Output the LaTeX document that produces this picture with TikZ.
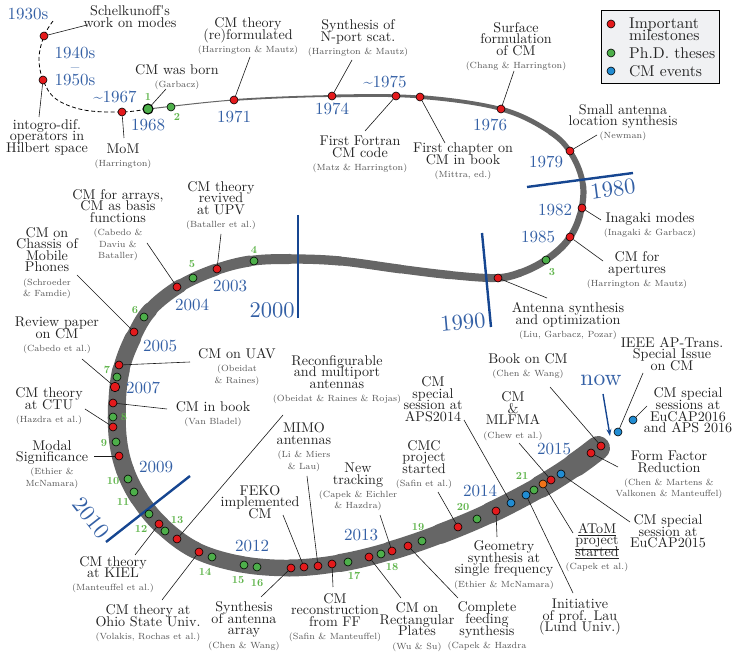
\documentclass[tikz,border=0pt]{standalone}
\usetikzlibrary{calc,arrows.meta}
\pgfdeclarelayer{bg}
\pgfdeclarelayer{mid}
\pgfsetlayers{bg,mid,main}

% fonts (Latin Modern, fixed optical sizes)
\font\mainfnt="[lmroman10-regular]:+tlig;" at 14.1pt
\font\smfnt="[lmroman7-regular]:+tlig;" at 8.95pt
\font\yrfnt="[lmroman10-regular]:+tlig;" at 17pt
\font\decfnt="[lmroman10-regular]:+tlig;" at 22.5pt
\font\nowfnt="[lmroman10-regular]:+tlig;" at 23.5pt
\font\numfnt="[lmroman10-bold]:+tlig;" at 10.8pt
\font\legfnt="[lmroman10-regular]:+tlig;" at 15.6pt

\definecolor{mred}{RGB}{228,26,28}
\definecolor{mgreen}{RGB}{77,175,74}
\definecolor{mblue}{RGB}{33,140,210}
\definecolor{morange}{RGB}{240,115,25}
\definecolor{yblue}{RGB}{52,96,165}
\definecolor{barblue}{RGB}{22,70,145}
\definecolor{ngreen}{RGB}{95,180,75}
\definecolor{tubegray}{RGB}{102,102,102}
\definecolor{labc}{RGB}{35,35,35}
\definecolor{smc}{RGB}{85,85,85}
\definecolor{legfill}{RGB}{240,241,243}

\newcommand\labfont{\mainfnt\baselineskip=11.6pt\lineskiplimit=-50pt\relax}
\newcommand\sm{\smfnt\color{smc}}

\begin{document}
\begin{tikzpicture}[x=1pt,y=-1pt,
  lab/.style={font=\labfont,align=center,inner sep=0pt,text=labc},
  yr/.style={font=\yrfnt,text=yblue,inner sep=0pt},
  dec/.style={font=\decfnt,text=yblue,inner sep=0pt},
  num/.style={font=\numfnt,text=ngreen,inner sep=0pt},
  legtext/.style={font={\legfnt\baselineskip=12pt\lineskiplimit=-50pt},align=left,inner sep=0pt,text=labc,anchor=west},
  dot/.style={circle,draw=black,line width=0.6pt,minimum size=8pt,inner sep=0pt},
  rd/.style={dot,fill=mred},
  gd/.style={dot,fill=mgreen},
  bd/.style={dot,fill=mblue},
  od/.style={dot,fill=morange},
  conn/.style={draw=black!90,line width=0.6pt},
  tube/.style={draw=tubegray,line cap=round},
  bar/.style={draw=barblue,line width=2.4pt},
  early/.style={draw=black,line width=0.8pt,dash pattern=on 4pt off 2.5pt},
]
\useasboundingbox (0,0) rectangle (732,652);

% ---------- milestone dots ----------
\node[rd] (r1) at (44,36) {};
\node[rd] (r2) at (43,80) {};
\node[rd] (r3) at (122,112) {};
\node[rd] (r4) at (234,100) {};
\node[rd] (r5) at (332,96) {};
\node[rd] (r6) at (396,96) {};
\node[rd] (r7) at (420,97) {};
\node[rd] (r8) at (501,109) {};
\node[rd] (r9) at (570,151) {};
\node[rd] (r10) at (582,208) {};
\node[rd] (r11) at (570,237) {};
\node[rd] (r12) at (498,278) {};
\node[rd] (r13) at (217,269) {};
\node[rd] (r14) at (177,287) {};
\node[rd] (r15) at (134,332) {};
\node[rd] (r16) at (119,365) {};
\node[rd,minimum size=9.5pt] (r17) at (115,387) {};
\node[rd] (r18) at (113,403) {};
\node[rd] (r19) at (113,427) {};
\node[rd] (r20) at (119,456) {};
\node[rd] (r21) at (159,524) {};
\node[rd] (r22) at (177,539) {};
\node[rd] (r23) at (199,552) {};
\node[rd] (r24) at (291,568) {};
\node[rd] (r25) at (304,567) {};
\node[rd] (r26) at (318,566) {};
\node[rd] (r27) at (332,564) {};
\node[rd] (r28) at (369,557) {};
\node[rd] (r29) at (392,551) {};
\node[rd] (r30) at (408,546) {};
\node[rd] (r31) at (458,527) {};
\node[rd] (r32) at (496,511) {};
\node[rd] (r33) at (551,480) {};
\node[rd] (r34) at (591,453) {};
\node[rd] (r35) at (601,446) {};

% ---------- thesis dots ----------
\node[gd,minimum size=10pt,line width=1.1pt] (g1) at (148,109) {};
\node[gd] (g2) at (171,107) {};
\node[gd] (g3) at (546,260) {};
\node[gd] (g4) at (254,261) {};
\node[gd] (g5) at (193,278) {};
\node[gd] (g6) at (144,317) {};
\node[gd] (g7) at (117,377) {};
\node[gd] (g8) at (113,417) {};
\node[gd] (g9) at (116,442) {};
\node[gd] (g10) at (128,479) {};
\node[gd] (g11) at (134,492) {};
\node[gd] (g12) at (149,514) {};
\node[gd] (g13) at (165,531) {};
\node[gd] (g14) at (212,557) {};
\node[gd] (g15) at (244,565) {};
\node[gd] (g16) at (257,567) {};
\node[gd] (g17) at (348,562) {};
\node[gd] (g18) at (381,554) {};
\node[gd] (g19) at (422,541) {};
\node[gd] (g20) at (477,519) {};
\node[gd] (g21) at (534,490) {};

% ---------- event dots ----------
\node[bd] (b1) at (511,503) {};
\node[bd] (b2) at (526,495) {};
\node[bd] (b3) at (561,474) {};
\node[bd] (b4) at (618,432) {};
\node[bd] (b5) at (633,420) {};
\node[od] (o1) at (543,484) {};

% ---------- thesis numbers ----------
\node[num] (n1) at (148,97) {1};
\node[num] (n2) at (177,117) {2};
\node[num] (n3) at (552,272) {3};
\node[num] (n4) at (254,250) {4};
\node[num] (n5) at (192,264) {5};
\node[num] (n6) at (135,310) {6};
\node[num] (n7) at (107,370) {7};
\node[num] (n8) at (124,417) {8};
\node[num] (n9) at (104,443) {9};
\node[num] (n10) at (113,481) {10};
\node[num] (n11) at (123,502) {11};
\node[num] (n12) at (141,529) {12};
\node[num] (n13) at (177,520) {13};
\node[num] (n14) at (205,572) {14};
\node[num] (n15) at (238,580) {15};
\node[num] (n16) at (257,583) {16};
\node[num] (n17) at (354,576) {17};
\node[num] (n18) at (392,567) {18};
\node[num] (n19) at (418,527) {19};
\node[num] (n20) at (463,507) {20};
\node[num] (n21) at (522,476) {21};

% ---------- years ----------
\node[yr] (y30) at (28,14) {1930s};
\node[yr,align=center,font={\yrfnt\baselineskip=13.5pt\lineskiplimit=-50pt}] (y40) at (75,66.5) {1940s\\\textendash\\1950s};
\node[yr] (y67) at (115,97) {\textasciitilde1967};
\node[yr] (y68) at (148,125) {1968};
\node[yr] (y71) at (234,117) {1971};
\node[yr] (y74) at (332,109) {1974};
\node[yr] (y75) at (385,82) {\textasciitilde1975};
\node[yr] (y76) at (490,125) {1976};
\node[yr] (y79) at (546,162) {1979};
\node[yr] (y82) at (555,210) {1982};
\node[yr] (y85) at (538,237) {1985};
\node[yr] (y03) at (230,286) {2003};
\node[yr] (y04) at (192,305) {2004};
\node[yr] (y05) at (160,346) {2005};
\node[yr] (y07) at (143,388) {2007};
\node[yr] (y09) at (156,467) {2009};
\node[yr] (y12) at (252,546) {2012};
\node[yr] (y13) at (361,535) {2013};
\node[yr] (y14) at (480,491) {2014};
\node[yr] (y15) at (554,449) {2015};
\node[dec,rotate=7.5] (d80) at (613,189) {1980};
\node[dec,rotate=5] (d90) at (463,322) {1990};
\node[dec] (d00) at (272,310) {2000};
\node[dec,rotate=-52] (d10) at (91,518) {2010};
\node[dec,font=\nowfnt] (dnow) at (601,380) {now};

% ---------- labels ----------
\node[lab] (L1) at (130,16.5) {Schelkunoff's\\work on modes};
\node[lab] (L2) at (47,137) {intogro-dif.\\operators in\\Hilbert space};
\node[lab] (L3) at (177,77) {CM was born\\[1.5pt]\sm (Garbacz)};
\node[lab] (L4) at (123,156.5) {MoM\\[1.5pt]\sm (Harrington)};
\node[lab] (L5) at (248,36) {CM theory\\(re)formulated\\[1.5pt]\sm (Harrington \& Mautz)};
\node[lab] (L6) at (358,38) {Synthesis of\\N-port scat.\\[1.5pt]\sm (Harrington \& Mautz)};
\node[lab] (L7) at (360,154.5) {First Fortran\\CM code\\[1.5pt]\sm (Matz \& Harrington)};
\node[lab] (L8) at (463,161) {First chapter on\\CM in book\\[1.5pt]\sm (Mittra, ed.)};
\node[lab] (L9) at (516,46.5) {Surface\\formulation\\of CM\\[1.5pt]\sm (Chang \& Harrington)};
\node[lab] (L10) at (623,122.5) {Small antenna\\location synthesis\\[1.5pt]\sm (Newman)};
\node[lab] (L11) at (650,225.5) {Inagaki modes\\[1.5pt]\sm (Inagaki \& Garbacz)};
\node[lab] (L12) at (637,270) {CM for\\apertures\\[1.5pt]\sm (Harrington \& Mautz)};
\node[lab] (L13) at (568,321) {Antenna synthesis\\and optimization\\[1.5pt]\sm (Liu, Garbacz, Pozar)};
\node[lab] (L14) at (118,225) {CM for arrays,\\CM as basis\\functions\\[1.5pt]\sm (Cabedo \&\\\sm Daviu \&\\\sm Bataller)};
\node[lab] (L15) at (221,205.5) {CM theory\\revived\\at UPV\\[1.5pt]\sm (Bataller et al.)};
\node[lab] (L16) at (47,263) {CM on\\Chassis of\\Mobile\\Phones\\[1.5pt]\sm (Schroeder\\\sm \& Famdie)};
\node[lab] (L17) at (57,335.5) {Review paper\\on CM\\[1.5pt]\sm (Cabedo et al.)};
\node[lab] (L18) at (237,367) {CM on UAV\\[1.5pt]\sm (Obeidat\\\sm \& Raines)};
\node[lab] (L19) at (213,414) {CM in book\\[1.5pt]\sm (Van Bladel)};
\node[lab] (L20) at (49,406) {CM theory\\at CTU\\[1.5pt]\sm (Hazdra et al.)};
\node[lab] (L21) at (52,464.5) {Modal\\Significance\\[1.5pt]\sm (Ethier \&\\\sm McNamara)};
\node[lab] (L22) at (113,574.5) {CM theory\\at KIEL\\[1.5pt]\sm (Manteuffel et al.)};
\node[lab] (L23) at (148,623) {CM theory at\\Ohio State Univ.\\[1.5pt]\sm (Volakis, Rochas et al.)};
\node[lab] (L24) at (337,379.5) {Reconfigurable\\and multiport\\antennas\\[1.5pt]\sm (Obeidat \& Raines \& Rojas)};
\node[lab] (L25) at (260,502) {FEKO\\implemented\\CM};
\node[lab] (L26) at (304,447) {MIMO\\antennas\\[1.5pt]\sm (Li \& Miers\\\sm \& Lau)};
\node[lab] (L27) at (244,626) {Synthesis\\of antenna\\array\\[1.5pt]\sm (Chen \& Wang)};
\node[lab] (L28) at (335,617.5) {CM\\reconstruction\\from FF\\[1.5pt]\sm (Safin \& Manteuffel)};
\node[lab] (L29) at (417,627) {CM on\\Rectangular\\Plates\\[1.5pt]\sm (Wu \& Su)};
\node[lab] (L30) at (358,487) {New\\tracking\\[1.5pt]\sm (Capek \& Eichler\\\sm \& Hazdra)};
\node[lab] (L31) at (487,632) {Complete\\feeding\\synthesis\\[1.5pt]\sm (Capek \& Hazdra\\\sm \& Eichler)};
\node[lab] (L32) at (424,464.5) {CMC\\project\\started\\[1.5pt]\sm (Safin et al.)};
\node[lab] (L33) at (504,565) {Geometry\\synthesis at\\single frequency\\[1.5pt]\sm (Ethier \& McNamara)};
\node[lab] (L34) at (433,399) {CM\\special\\session at\\APS2014};
\node[lab] (L35) at (580,617) {Initiative\\of prof. Lau\\(Lund Univ.)};
\node[lab] (L36) at (597,547.5) {\underline{AToM}\\\underline{project}\\\underline{started}\\[1.5pt]\sm (Capek et al.)};
\node[lab] (L37) at (513,416) {CM\\\&\\MLFMA\\[1.5pt]\sm (Chew et al.)};
\node[lab] (L38) at (668,531.5) {CM special\\session at\\EuCAP2015};
\node[lab] (L39) at (669,475) {Form Factor\\Reduction\\[1.5pt]\sm (Chen \& Martens \&\\\sm Valkonen \& Manteuffel)};
\node[lab] (L40) at (528,366.5) {Book on CM\\[1.5pt]\sm (Chen \& Wang)};
\node[lab] (L41) at (672,354) {IEEE AP-Trans.\\Special Issue\\on CM};
\node[lab] (L42) at (688,410.5) {CM special\\sessions at\\EuCAP2016\\and APS 2016};

% ---------- legend ----------
\node[draw=black,line width=0.8pt,fill=legfill,minimum width=118pt,minimum height=73pt,inner sep=0pt] (legend) at (660,46.5) {};
\node[rd] (lr) at (611,24) {};
\node[gd] (lg) at (611,53) {};
\node[bd] (lb) at (611,71) {};
\node[legtext] (lt1) at (629,29) {Important\\milestones};
\node[legtext] (lt2) at (629,53) {Ph.D. theses};
\node[legtext] (lt3) at (629,71) {CM events};

% ---------- the time line ----------
\foreach \px/\py [count=\i from 0] in {148/109,234/100,332/96,420/97,501/109,550/132,
  572/155,583/185,580/215,568/240,546/260,520/273,495/278,450/275,400/269,
  340/261,290/259,250/261,215/270,180/286,150/310,133/338,121/370,117/405,
  118/440,125/470,139/498,161/525,195/550,240/564,290/568,340/563,390/551,
  440/534,490/513,540/487,575/465,598/448}{\coordinate (P\i) at (\px,\py);}

\begin{pgfonlayer}{bg}
\foreach \i/\w in {0/1.0,1/1.8,2/2.8,3/3.8,4/4.8,5/5.4,6/5.8,7/6.2,8/6.6,9/7.0,10/7.3,11/7.6,
  12/8.0,13/8.4,14/8.8,15/9.3,16/10,17/11,18/12,19/13.5,20/15,21/16.5,22/17.5,23/18,24/18,
  25/18,26/17.5,27/17,28/16.5,29/16.5,30/17,31/18,32/19,33/20,34/21,35/22.5,36/24}{
  \pgfmathtruncatemacro\ia{max(\i-1,0)}
  \pgfmathtruncatemacro\ib{\i+1}
  \pgfmathtruncatemacro\ic{min(\i+2,37)}
  \draw[tube,line width=\w pt] (P\i) .. controls ($(P\i)+0.1667*(P\ib)-0.1667*(P\ia)$)
    and ($(P\ib)-0.1667*(P\ic)+0.1667*(P\i)$) .. (P\ib);
}
\coordinate (e0) at (53,21);
\coordinate (e1) at (39,58);
\coordinate (e2) at (56,99);
\coordinate (e3) at (84,110);
\draw[early] plot[smooth,tension=0.6] coordinates {(e0) (r1.center) (e1) (r2.center) (e2) (e3) (r3.center) (g1.center)};
\end{pgfonlayer}

% ---------- decade marks, connectors ----------
\begin{pgfonlayer}{mid}
\coordinate (k80a) at (527,187); \coordinate (k80b) at (633,173);
\coordinate (k90a) at (482,233); \coordinate (k90b) at (491,327);
\coordinate (k00a) at (298,215); \coordinate (k00b) at (298,318);
\coordinate (k10a) at (106,542); \coordinate (k10b) at (190,476);
\draw[bar] (k80a) -- (k80b);
\draw[bar] (k90a) -- (k90b);
\draw[bar] (k00a) -- (k00b);
\draw[bar] (k10a) -- (k10b);

\coordinate (w0) at (603,394); \coordinate (w1) at (610,436);
\draw[draw=barblue,line width=1.4pt,-{Stealth[length=7pt,width=5pt]}] (w0) -- (w1);

\coordinate (c1) at (87,25);    \draw[conn] (r1) -- (c1);
\coordinate (c2) at (39,117);   \draw[conn] (r2) -- (c2);
\coordinate (c3) at (166,89);   \draw[conn] (g1) -- (c3);
\coordinate (c4) at (124,138);  \draw[conn] (r3) -- (c4);
\coordinate (c5) at (250,57);   \draw[conn] (r4) -- (c5);
\coordinate (c6) at (352,60);   \draw[conn] (r5) -- (c6);
\coordinate (c7) at (365,131);  \draw[conn] (r6) -- (c7);
\coordinate (c8) at (445,143);  \draw[conn] (r7) -- (c8);
\coordinate (c9) at (514,71);   \draw[conn] (r8) -- (c9);
\coordinate (c10) at (597,135); \draw[conn] (r9) -- (c10);
\coordinate (c11) at (601,220); \draw[conn] (r10) -- (c11);
\coordinate (c12) at (603,261); \draw[conn] (r11) -- (c12);
\coordinate (c13) at (547,298); \draw[conn] (r12) -- (c13);
\coordinate (c14) at (147,243); \draw[conn] (r14) -- (c14);
\coordinate (c15) at (221,234); \draw[conn] (r13) -- (c15);
\coordinate (c16) at (77,275);  \draw[conn] (r15) -- (c16);
\coordinate (c17) at (82,359);  \draw[conn] (r17) -- (c17);
\coordinate (c18) at (190,362); \draw[conn] (r16) -- (c18);
\coordinate (c19) at (167,409); \draw[conn] (r18) -- (c19);
\coordinate (c20) at (85,409);  \draw[conn] (r19) -- (c20);
\coordinate (c21) at (94,456);  \draw[conn] (r20) -- (c21);
\coordinate (c22) at (135,555); \draw[conn] (r21) -- (c22);
\coordinate (c23) at (283,415); \draw[conn] (r22) -- (c23);
\coordinate (c24) at (162,600); \draw[conn] (r23) -- (c24);
\coordinate (c25) at (261,597); \draw[conn] (r24) -- (c25);
\coordinate (c26) at (283,515); \draw[conn] (r25) -- (c26);
\coordinate (c27) at (307,476); \draw[conn] (r26) -- (c27);
\coordinate (c28) at (333,587); \draw[conn] (r27) -- (c28);
\coordinate (c29) at (401,598); \draw[conn] (r28) -- (c29);
\coordinate (c30) at (380,515); \draw[conn] (r29) -- (c30);
\coordinate (c31) at (458,598); \draw[conn] (r30) -- (c31);
\coordinate (c32) at (438,492); \draw[conn] (r31) -- (c32);
\coordinate (c33) at (497,537); \draw[conn] (r32) -- (c33);
\coordinate (c34) at (464,420); \draw[conn] (b1) -- (c34);
\coordinate (c35) at (573,593); \draw[conn] (b2) -- (c35);
\coordinate (c36) at (573,533); \draw[conn] (o1) -- (c36);
\coordinate (c37) at (519,443); \draw[conn] (r33) -- (c37);
\coordinate (c38) at (630,522); \draw[conn] (b3) -- (c38);
\coordinate (c39) at (618,467); \draw[conn] (r34) -- (c39);
\coordinate (c40) at (550,387); \draw[conn] (r35) -- (c40);
\coordinate (c41) at (643,373); \draw[conn] (b4) -- (c41);
\coordinate (c42) at (647,406); \draw[conn] (b5) -- (c42);
\end{pgfonlayer}
\end{tikzpicture}
\end{document}
